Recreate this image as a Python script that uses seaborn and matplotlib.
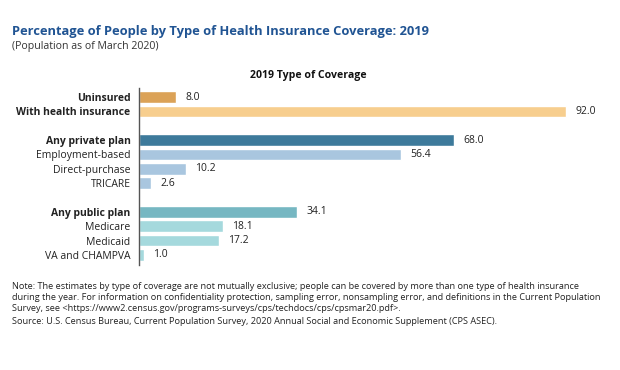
import numpy as np
import pandas as pd
import matplotlib
matplotlib.use("Agg")
import matplotlib.pyplot as plt
import seaborn as sns

# Data
labels = ["Uninsured", "With health insurance",
          "Any private plan", "Employment-based", "Direct-purchase", "TRICARE",
          "Any public plan", "Medicare", "Medicaid", "VA and CHAMPVA"]
values = [8.0, 92.0, 68.0, 56.4, 10.2, 2.6, 34.1, 18.1, 17.2, 1.0]
headers = ["Uninsured", "With health insurance", "Any private plan", "Any public plan"]
colors = ["#DBA257", "#F7CE8E", "#3D7A9B", "#A9C6DF", "#A9C6DF", "#A9C6DF",
          "#76B7C2", "#A5D9DD", "#A5D9DD", "#A5D9DD"]

# blank rows separate the groups
order = labels[:2] + [" "] + labels[2:6] + ["  "] + labels[6:]

df = pd.DataFrame({"label": labels, "value": values})

sns.set_style("white")
plt.rcParams["font.family"] = ["Open Sans", "DejaVu Sans"]

fig = plt.figure(figsize=(6.2, 3.7), dpi=100)
ax = fig.add_axes([0.224, 0.284, 0.726, 0.478])

sns.barplot(data=df, x="value", y="label", hue="label", order=order,
            palette=dict(zip(labels, colors)), width=0.8, legend=False,
            saturation=1, ax=ax)

for val, lab in zip(values, labels):
    ax.text(val + 2.0, order.index(lab), f"{val:.1f}", va="center", ha="left",
            fontsize=7.5, color="#222222")

ax.set_xlim(0, 97)
ax.set_ylim(len(order) - 0.3, -0.63)
ax.set_xlabel("")
ax.set_ylabel("")
ax.set_xticks([])
ax.tick_params(axis="y", length=0, pad=6, labelsize=7.5, labelcolor="#222222")
for t in ax.get_yticklabels():
    if t.get_text() in headers:
        t.set_fontweight("bold")
for s in ["top", "right", "bottom"]:
    ax.spines[s].set_visible(False)
ax.spines["left"].set_color("#555555")
ax.spines["left"].set_linewidth(1.0)

fig.text(0.019, 0.915, "Percentage of People by Type of Health Insurance Coverage: 2019",
         fontsize=9.3, fontweight="bold", color="#205493", va="center")
fig.text(0.019, 0.874, "(Population as of March 2020)", fontsize=7.6, color="#333333", va="center")
fig.text(0.497, 0.797, "2019 Type of Coverage", fontsize=7.6, fontweight="bold",
         color="#111111", ha="center", va="center")

note = ("Note: The estimates by type of coverage are not mutually exclusive; people can be covered by more than one type of health insurance\n"
        "during the year. For information on confidentiality protection, sampling error, nonsampling error, and definitions in the Current Population\n"
        "Survey, see <https://www2.census.gov/programs-surveys/cps/techdocs/cps/cpsmar20.pdf>.")
fig.text(0.019, 0.238, note, fontsize=6.55, color="#222222", va="top", linespacing=1.3)
fig.text(0.019, 0.142, "Source: U.S. Census Bureau, Current Population Survey, 2020 Annual Social and Economic Supplement (CPS ASEC).",
         fontsize=6.55, color="#222222", va="top")

fig.savefig("out.png", dpi=100)
